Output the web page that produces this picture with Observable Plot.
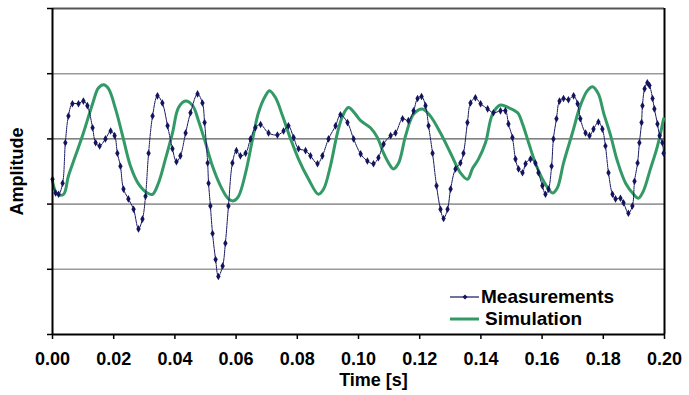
<!DOCTYPE html>
<html><head><meta charset="utf-8">
<script src="https://cdn.jsdelivr.net/npm/d3@7"></script>
<script src="https://cdn.jsdelivr.net/npm/@observablehq/plot@0.6"></script>
<style>
body{margin:0;background:#fff;font-family:"Liberation Sans",Arial,sans-serif;}
#wrap{position:relative;width:689px;height:395px;}
#legend{position:absolute;left:449px;top:286px;font-weight:bold;font-size:19px;line-height:22px;color:#000;}
#legend .row{display:flex;align-items:center;height:22px;white-space:nowrap;}
#legend svg{display:block;}
</style></head><body><div id="wrap"></div>
<script>
const measTime = [0.0000,0.0010,0.0020,0.0033,0.0042,0.0052,0.0065,0.0085,0.0101,0.0114,0.0131,0.0141,0.0154,0.0173,0.0190,0.0203,0.0212,0.0222,0.0232,0.0248,0.0265,0.0281,0.0294,0.0304,0.0314,0.0327,0.0343,0.0359,0.0376,0.0392,0.0405,0.0418,0.0435,0.0451,0.0474,0.0490,0.0497,0.0507,0.0510,0.0516,0.0523,0.0533,0.0542,0.0556,0.0565,0.0575,0.0588,0.0601,0.0614,0.0631,0.0647,0.0663,0.0680,0.0706,0.0735,0.0755,0.0771,0.0788,0.0804,0.0827,0.0843,0.0866,0.0882,0.0902,0.0925,0.0941,0.0964,0.0984,0.1007,0.1029,0.1049,0.1065,0.1082,0.1105,0.1121,0.1144,0.1163,0.1180,0.1193,0.1206,0.1219,0.1229,0.1242,0.1255,0.1268,0.1278,0.1291,0.1301,0.1317,0.1333,0.1343,0.1356,0.1366,0.1382,0.1399,0.1422,0.1441,0.1464,0.1480,0.1490,0.1503,0.1513,0.1523,0.1536,0.1546,0.1562,0.1578,0.1588,0.1601,0.1611,0.1621,0.1631,0.1637,0.1647,0.1657,0.1670,0.1686,0.1703,0.1716,0.1725,0.1742,0.1755,0.1768,0.1784,0.1797,0.1807,0.1817,0.1830,0.1840,0.1856,0.1866,0.1882,0.1895,0.1902,0.1912,0.1918,0.1925,0.1928,0.1935,0.1944,0.1951,0.1961,0.1967,0.1977,0.1984,0.1993,0.1997];
const measAmp = [-0.62,-0.83,-0.85,-0.68,-0.06,0.35,0.54,0.54,0.58,0.51,0.17,-0.06,-0.11,0.00,0.12,0.05,-0.22,-0.42,-0.77,-0.92,-1.08,-1.38,-1.23,-0.88,-0.22,0.35,0.66,0.55,0.20,-0.15,-0.35,-0.26,0.09,0.40,0.69,0.55,0.25,-0.37,-0.68,-1.03,-1.45,-1.85,-2.11,-1.95,-1.60,-1.03,-0.37,-0.18,-0.26,-0.22,0.00,0.17,0.22,0.09,0.06,0.12,0.20,0.02,-0.15,-0.18,-0.26,-0.38,-0.26,0.00,0.20,0.37,0.25,0.00,-0.23,-0.34,-0.38,-0.29,-0.08,0.05,0.09,0.31,0.28,0.43,0.62,0.65,0.51,0.20,-0.22,-0.72,-1.08,-1.22,-1.08,-0.77,-0.46,-0.37,-0.22,0.25,0.55,0.63,0.54,0.46,0.40,0.43,0.43,0.23,0.02,-0.31,-0.46,-0.52,-0.38,-0.31,-0.37,-0.52,-0.72,-0.85,-0.77,-0.42,0.00,0.31,0.58,0.62,0.60,0.66,0.54,0.31,0.09,0.05,0.15,0.26,0.15,-0.11,-0.52,-0.85,-0.92,-0.91,-0.98,-1.14,-1.03,-0.65,-0.37,-0.06,0.25,0.51,0.77,0.86,0.82,0.62,0.46,0.23,0.05,-0.06,-0.22];
const simTime = [0.0000,0.0016,0.0036,0.0052,0.0075,0.0101,0.0131,0.0150,0.0167,0.0183,0.0206,0.0229,0.0255,0.0281,0.0310,0.0327,0.0346,0.0369,0.0392,0.0412,0.0435,0.0458,0.0477,0.0500,0.0523,0.0549,0.0575,0.0592,0.0608,0.0631,0.0654,0.0673,0.0696,0.0709,0.0729,0.0752,0.0778,0.0804,0.0837,0.0869,0.0886,0.0908,0.0931,0.0948,0.0967,0.0990,0.1007,0.1039,0.1062,0.1082,0.1105,0.1114,0.1131,0.1154,0.1180,0.1209,0.1235,0.1268,0.1301,0.1333,0.1356,0.1373,0.1392,0.1415,0.1438,0.1464,0.1490,0.1520,0.1536,0.1556,0.1578,0.1605,0.1634,0.1650,0.1670,0.1699,0.1725,0.1748,0.1765,0.1784,0.1801,0.1824,0.1846,0.1873,0.1899,0.1915,0.1931,0.1954,0.1977,0.1997];
const simAmp = [-0.65,-0.85,-0.85,-0.57,-0.26,0.09,0.54,0.78,0.83,0.77,0.46,0.05,-0.42,-0.69,-0.83,-0.85,-0.68,-0.31,0.09,0.48,0.58,0.51,0.28,-0.06,-0.42,-0.72,-0.92,-0.95,-0.88,-0.52,0.00,0.40,0.66,0.74,0.63,0.35,0.00,-0.31,-0.62,-0.85,-0.77,-0.42,0.09,0.35,0.48,0.38,0.28,0.17,0.02,-0.22,-0.42,-0.46,-0.37,0.05,0.38,0.46,0.35,0.09,-0.22,-0.52,-0.62,-0.45,-0.31,-0.06,0.38,0.52,0.48,0.40,0.23,-0.06,-0.37,-0.65,-0.83,-0.75,-0.37,0.09,0.51,0.74,0.80,0.69,0.40,0.05,-0.34,-0.68,-0.85,-0.91,-0.80,-0.46,-0.11,0.31];
const xTicks = [0,0.02,0.04,0.06,0.08,0.10,0.12,0.14,0.16,0.18,0.20];
const yTicks = [-3,-2,-1,0,1,2];
const gridLevels = [-2,-1,1];
const seriesNames = ["Measurements","Simulation"];
const seriesColors = ["#14145e","#339966"];
const xLabel = "Time [s]";
const yLabel = "Amplitude";

const meas = measTime.map((t,i)=>({t, a: measAmp[i]}));
const sim = simTime.map((t,i)=>({t, a: simAmp[i]}));

const chart = Plot.plot({
  width: 689, height: 395,
  marginLeft: 52, marginRight: 25, marginTop: 8, marginBottom: 61,
  style: {fontFamily: '"Liberation Sans", Arial, sans-serif', fontSize: "18px", fontWeight: "bold", color: "#000", background: "#fff", overflow: "visible"},
  x: {domain: [0, 0.2]},
  y: {domain: [-3, 2]},
  marks: [
    Plot.ruleY(gridLevels, {stroke: "#9a9a9a", strokeWidth: 1.6}),
    Plot.ruleY([0], {stroke: "#333", strokeWidth: 1}),
    Plot.ruleY([2], {stroke: "#555", strokeWidth: 2}),
    Plot.ruleX([0.2], {stroke: "#000", strokeWidth: 2}),
    Plot.line(sim, {x: "t", y: "a", stroke: seriesColors[1], strokeWidth: 3, curve: "catmull-rom"}),
    Plot.line(meas, {x: "t", y: "a", stroke: seriesColors[0], strokeWidth: 1, strokeDasharray: "3,1", curve: "catmull-rom"}),
    Plot.dot(meas, {x: "t", y: "a", symbol: "diamond", r: 2.3, fill: seriesColors[0], stroke: "none"}),
    Plot.ruleX([0], {stroke: "#000", strokeWidth: 2}),
    Plot.ruleY([-3], {stroke: "#000", strokeWidth: 2}),
    Plot.axisX({ticks: xTicks, tickFormat: d3.format(".2f"), tickSize: 5, tickPadding: 13, stroke: "#000", strokeWidth: 1.5, label: null}),
    Plot.axisY({ticks: yTicks, tickFormat: () => "", tickSize: 5, stroke: "#000", strokeWidth: 1.5, label: null}),
    Plot.text([xLabel], {frameAnchor: "bottom", dx: 15, dy: 46, lineAnchor: "middle", fontSize: 18, fontWeight: "bold", fill: "#000"}),
    Plot.text([yLabel], {frameAnchor: "left", textAnchor: "middle", rotate: -90, dx: -35, lineAnchor: "middle", fontSize: 18, fontWeight: "bold", fill: "#000"})
  ]
});
const wrap = document.getElementById("wrap");
wrap.appendChild(chart);

const legend = document.createElement("div");
legend.id = "legend";
seriesNames.forEach((name, i) => {
  const row = document.createElement("div");
  row.className = "row";
  const ns = "http://www.w3.org/2000/svg";
  const sw = document.createElementNS(ns, "svg");
  sw.setAttribute("width", 32); sw.setAttribute("height", 10);
  const ln = document.createElementNS(ns, "line");
  ln.setAttribute("x1", 1); ln.setAttribute("x2", 30); ln.setAttribute("y1", 5); ln.setAttribute("y2", 5);
  ln.setAttribute("stroke", seriesColors[i]); ln.setAttribute("stroke-width", i === 0 ? 1.2 : 3);
  sw.appendChild(ln);
  if (i === 0) {
    const m = document.createElementNS(ns, "path");
    m.setAttribute("d", "M16,2.5L18.5,5L16,7.5L13.5,5Z");
    m.setAttribute("fill", seriesColors[0]);
    sw.appendChild(m);
  }
  row.appendChild(sw);
  const label = document.createElement("span");
  label.textContent = name;
  label.style.marginLeft = i === 0 ? "0px" : "4px";
  row.appendChild(label);
  legend.appendChild(row);
});
wrap.appendChild(legend);
</script></body></html>
